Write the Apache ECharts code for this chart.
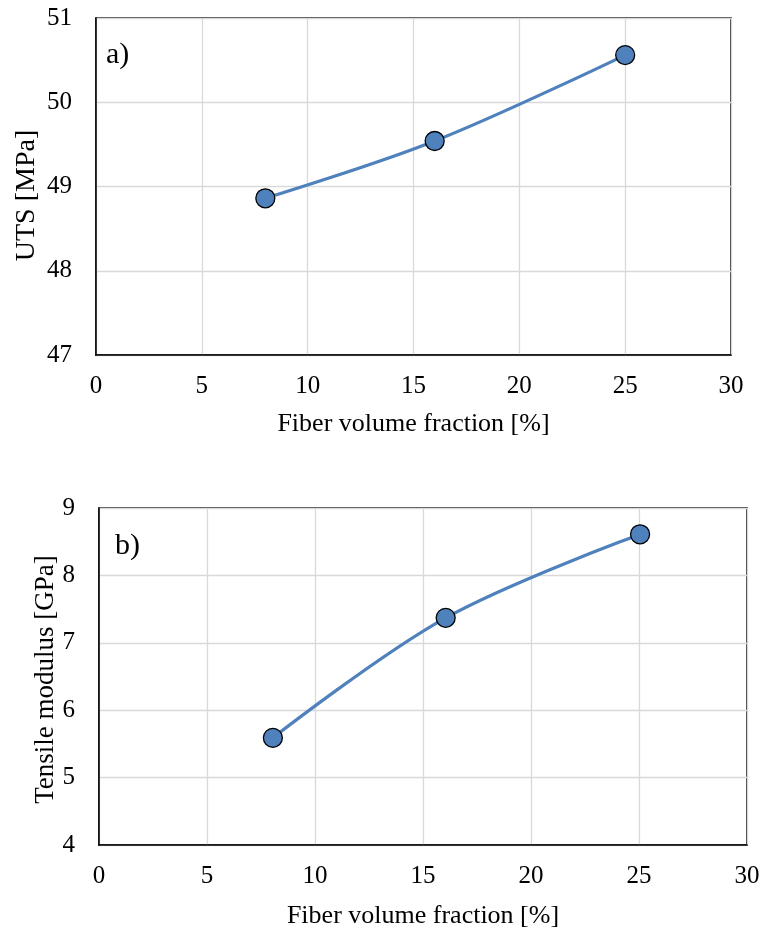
<!DOCTYPE html>
<html><head><meta charset="utf-8">
<script src="https://cdn.jsdelivr.net/npm/echarts@6/dist/echarts.min.js"></script>
<style>html,body{margin:0;padding:0;background:#fff}#c{width:764px;height:932px}</style>
</head><body><div id="c"></div>
<script>
const fiberA = [8, 16, 25];
const utsA = [48.86, 49.54, 50.56];
const fiberB = [8.05, 16.05, 25.05];
const modulusB = [5.59, 7.37, 8.61];
const xTicks = [0, 5, 10, 15, 20, 25, 30];
const yTicksA = [47, 48, 49, 50, 51];
const yTicksB = [4, 5, 6, 7, 8, 9];

const FONT = '"Liberation Serif", "Times New Roman", serif';
const BLUE = '#4f81bd';
const chart = echarts.init(document.getElementById('c'));

function xAxis(gi, nameGap) {
  return {
    type: 'value', gridIndex: gi, min: xTicks[0], max: xTicks[xTicks.length-1], interval: 5,
    name: 'Fiber volume fraction [%]', nameLocation: 'middle', nameGap: nameGap,
    nameMoveOverlap: false,
    nameTextStyle: {fontFamily: FONT, fontSize: 26, color: '#000'},
    axisLine: {show: true, lineStyle: {color: '#000', width: 1.5}},
    axisTick: {show: false},
    axisLabel: {fontFamily: FONT, fontSize: 25, color: '#000', margin: 19},
    splitLine: {show: true, lineStyle: {color: '#d9d9d9', width: 1.3}}
  };
}
function yAxis(gi, ticks, name, nameGap, fs, pad) {
  return {
    type: 'value', gridIndex: gi, min: ticks[0], max: ticks[ticks.length-1], interval: 1,
    name: name, nameLocation: 'middle', nameGap: nameGap, nameRotate: 90,
    nameMoveOverlap: false,
    nameTextStyle: {fontFamily: FONT, fontSize: fs, color: '#000', padding: pad},
    axisLine: {show: true, lineStyle: {color: '#000', width: 1.5}},
    axisTick: {show: false},
    axisLabel: {fontFamily: FONT, fontSize: 25, color: '#000', margin: 24},
    splitLine: {show: true, lineStyle: {color: '#d9d9d9', width: 1.3}}
  };
}

chart.setOption({
  animation: false,
  backgroundColor: '#fff',
  grid: [
    {left: 96, top: 18, width: 635, height: 337, show: true, borderColor: '#000', borderWidth: 1.5},
    {left: 99, top: 508, width: 648, height: 337, show: true, borderColor: '#000', borderWidth: 1.5}
  ],
  xAxis: [xAxis(0, 56), xAxis(1, 58)],
  yAxis: [yAxis(0, yTicksA, 'UTS [MPa]', 55, 28, [0, 18, 0, 0]),
          yAxis(1, yTicksB, 'Tensile modulus [GPa]', 40, 27, [0, 6, 0, 0])],
  graphic: [
    {type: 'text', left: 106, top: 40, style: {text: 'a)', font: '30px ' + FONT, fill: '#000'}},
    {type: 'text', left: 115, top: 531, style: {text: 'b)', font: '30px ' + FONT, fill: '#000'}}
  ],
  series: [
    {type: 'line', xAxisIndex: 0, yAxisIndex: 0, smooth: 0.35,
     data: fiberA.map((x, i) => [x, utsA[i]]),
     symbol: 'circle', symbolSize: 19,
     lineStyle: {color: BLUE, width: 3.2},
     itemStyle: {color: BLUE, borderColor: '#000', borderWidth: 1.3}},
    {type: 'line', xAxisIndex: 1, yAxisIndex: 1, smooth: 0.35,
     data: fiberB.map((x, i) => [x, modulusB[i]]),
     symbol: 'circle', symbolSize: 19,
     lineStyle: {color: BLUE, width: 3.2},
     itemStyle: {color: BLUE, borderColor: '#000', borderWidth: 1.3}}
  ]
});
</script></body></html>
